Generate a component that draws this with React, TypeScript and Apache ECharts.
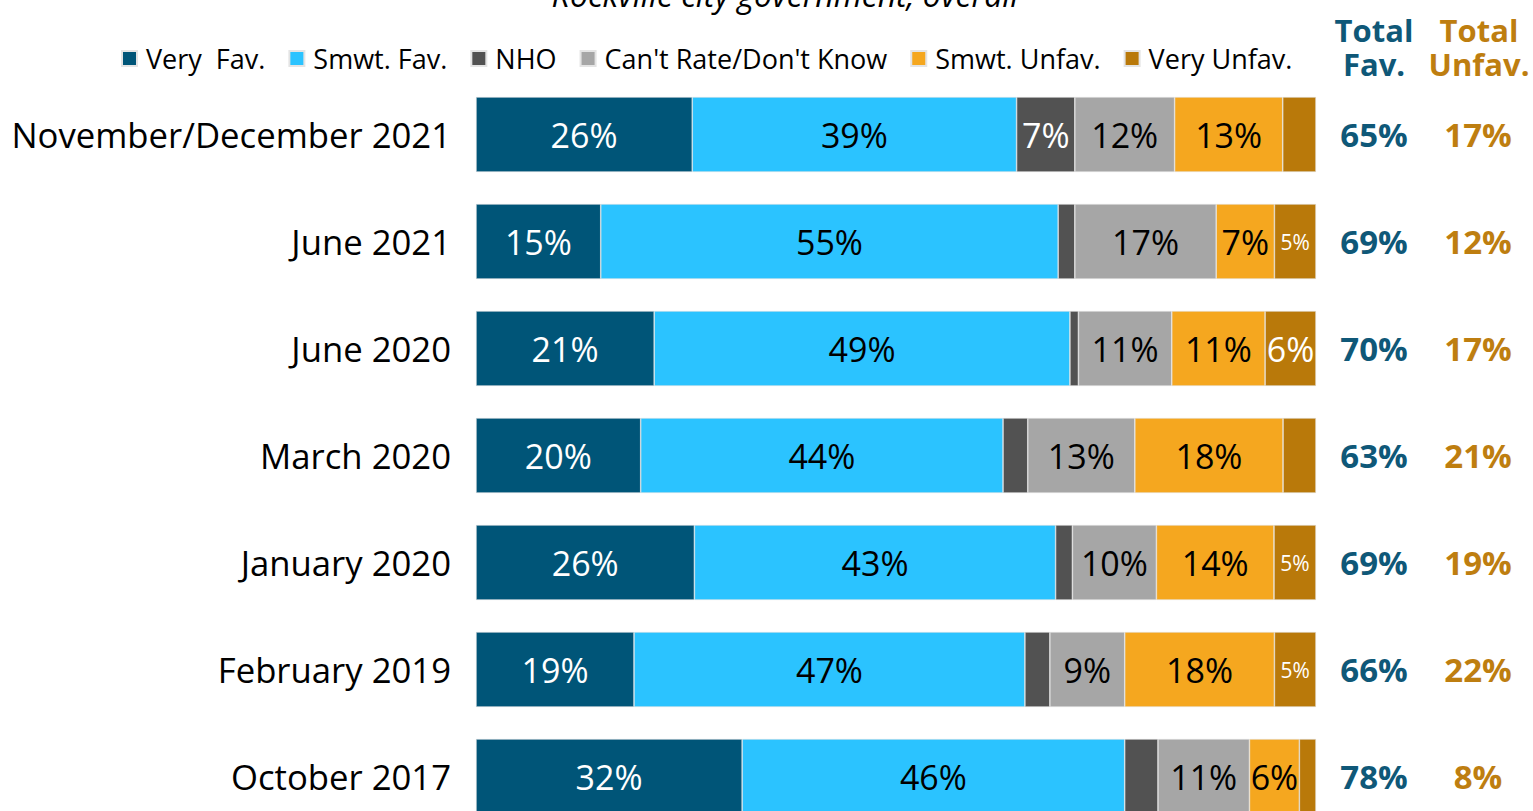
import React, { useEffect, useRef } from "react";
import * as echarts from "echarts";

const categories = [
  "November/December 2021",
  "June 2021",
  "June 2020",
  "March 2020",
  "January 2020",
  "February 2019",
  "October 2017",
];
const seriesNames = ["Very  Fav.", "Smwt. Fav.", "NHO", "Can't Rate/Don't Know", "Smwt. Unfav.", "Very Unfav."];
const veryFav = [26, 15, 21, 20, 26, 19, 32];
const smwtFav = [39, 55, 49, 44, 43, 47, 46];
const nho = [7, 2, 1, 3, 2, 3, 4];
const cantRate = [12, 17, 11, 13, 10, 9, 11];
const smwtUnfav = [13, 7, 11, 18, 14, 18, 6];
const veryUnfav = [4, 5, 6, 4, 5, 5, 2];
const totalFav = [65, 69, 70, 63, 69, 66, 78];
const totalUnfav = [17, 12, 17, 21, 19, 22, 8];
const title = "Rockville city government, overall";

const colors = ["#005578", "#2BC3FF", "#525252", "#A6A6A6", "#F5A71F", "#B9790A"];
const labelColors = ["#ffffff", "#000000", "#ffffff", "#000000", "#000000", "#ffffff"];
const FAV_COLOR = "#0F5878";
const UNFAV_COLOR = "#BE7E10";
const FONT = "Open Sans";

export default function App() {
  const ref = useRef<HTMLDivElement>(null);
  useEffect(() => {
    if (!ref.current) return;
    const chart = echarts.init(ref.current, null, { renderer: "svg" });
    const all = [veryFav, smwtFav, nho, cantRate, smwtUnfav, veryUnfav];
    const rowSums = categories.map((_, i) => all.reduce((s, arr) => s + arr[i], 0));
    const series = all.map((arr, si) => ({
      name: seriesNames[si],
      type: "bar",
      stack: "total",
      barWidth: 75,
      itemStyle: { color: colors[si], borderColor: "#e4e4e4", borderWidth: 0.6 },
      label: {
        show: true,
        position: "inside",
        color: labelColors[si],
        fontFamily: FONT,
        fontSize: 34,
        formatter: (p: any) => p.data.raw + "%",
      },
      data: arr.map((v, i) => ({
        value: (v / rowSums[i]) * 100,
        raw: v,
        label: v < 5 ? { show: false } : v === 5 ? { show: true, fontSize: 21 } : { show: true },
      })),
    }));
    chart.setOption({
      animation: false,
      textStyle: { fontFamily: FONT },
      color: colors,
      legend: {
        left: 116,
        top: 70,
        icon: "rect",
        itemWidth: 15,
        itemHeight: 15,
        itemGap: 23,
        textStyle: { fontSize: 27, color: "#000", fontFamily: FONT, padding: [0, 0, 0, 4] },
        data: seriesNames,
      },
      grid: { left: 476, right: 217, top: 111, bottom: 20, containLabel: false },
      xAxis: { type: "value", min: 0, max: 100, show: false },
      yAxis: [
        {
          type: "category",
          data: categories,
          inverse: true,
          axisLine: { show: false },
          axisTick: { show: false },
          axisLabel: { fontSize: 34.7, color: "#000", margin: 25, fontFamily: FONT },
        },
        {
          type: "category",
          data: totalFav.map((v) => v + "%"),
          inverse: true,
          position: "right",
          axisLine: { show: false },
          axisTick: { show: false },
          axisLabel: { fontSize: 33, color: FAV_COLOR, fontWeight: "bold", margin: 58, align: "center", fontFamily: FONT },
        },
        {
          type: "category",
          data: totalUnfav.map((v) => v + "%"),
          inverse: true,
          position: "right",
          axisLine: { show: false },
          axisTick: { show: false },
          axisLabel: { fontSize: 33, color: UNFAV_COLOR, fontWeight: "bold", margin: 162, align: "center", fontFamily: FONT },
        },
      ],
      graphic: [
        {
          type: "text",
          x: 785,
          y: 40,
          style: { text: title, fontSize: 32, fontStyle: "italic", fill: "#000", fontFamily: FONT, align: "center", verticalAlign: "bottom" },
        },
        {
          type: "text",
          x: 1374,
          y: 77,
          style: { text: "Total\nFav.", fontSize: 31, fontWeight: "bold", fill: FAV_COLOR, align: "center", verticalAlign: "middle", lineHeight: 34, fontFamily: FONT },
        },
        {
          type: "text",
          x: 1479,
          y: 77,
          style: { text: "Total\nUnfav.", fontSize: 31, fontWeight: "bold", fill: UNFAV_COLOR, align: "center", verticalAlign: "middle", lineHeight: 34, fontFamily: FONT },
        },
      ],
      series,
    });
    return () => chart.dispose();
  }, []);
  return (
    <div style={{ position: "absolute", left: 0, top: 0, width: 1533, height: 811, overflow: "hidden", background: "#fff" }}>
      <div ref={ref} style={{ position: "absolute", left: 0, top: -30, width: 1533, height: 880 }} />
    </div>
  );
}
